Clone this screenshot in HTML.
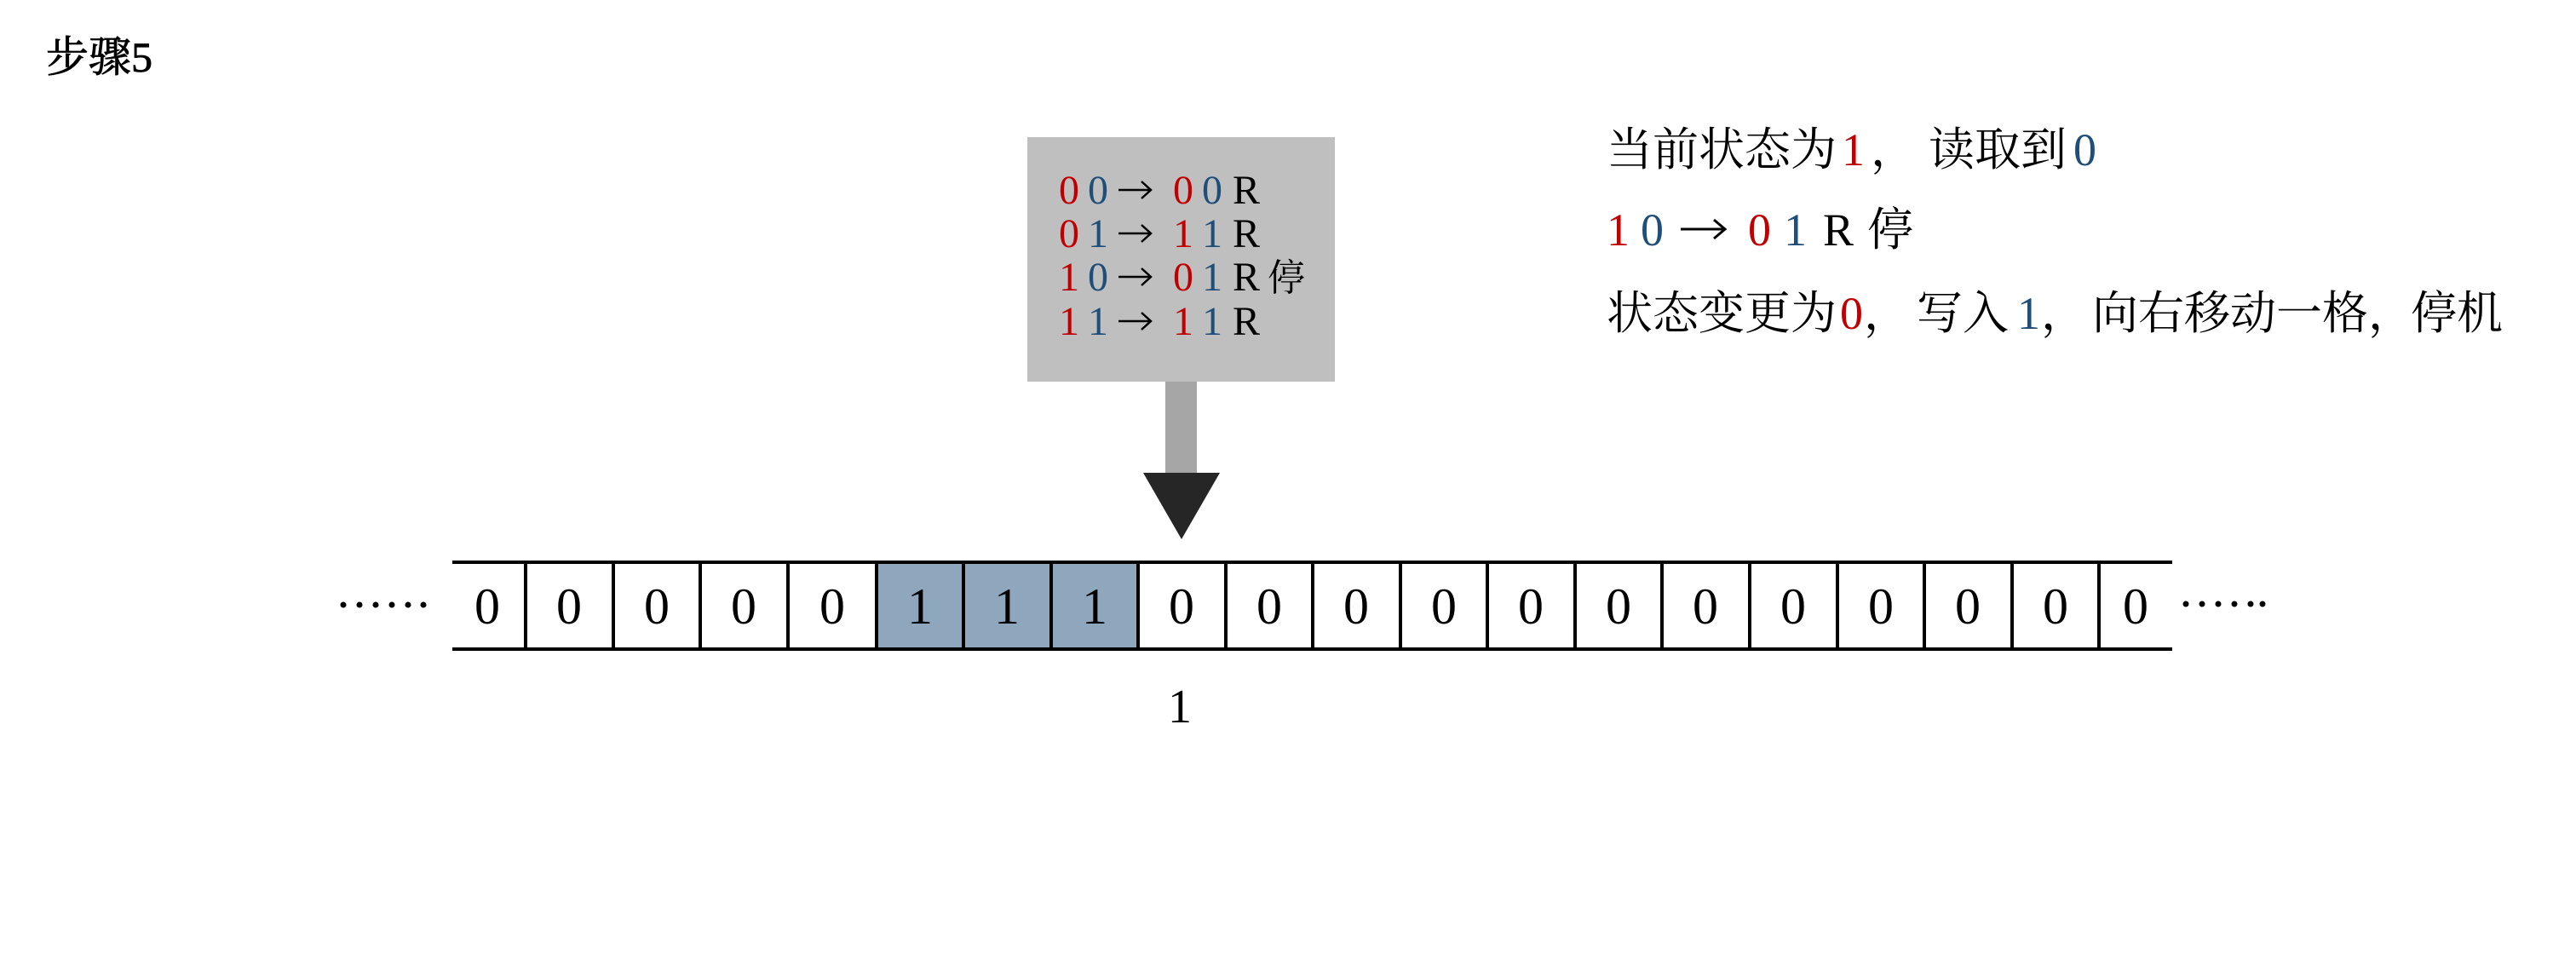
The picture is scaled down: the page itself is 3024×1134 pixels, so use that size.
<!DOCTYPE html>
<html><head><meta charset="utf-8"><style>
html,body{margin:0;padding:0;background:#fff;}
svg{display:block;}
.s{font-family:"Liberation Serif","Noto Serif CJK SC",serif;}
.c{font-family:"Liberation Serif","Noto Serif CJK SC",serif;}
</style></head><body>
<svg width="3024" height="1134" viewBox="0 0 3024 1134" xmlns="http://www.w3.org/2000/svg">
<rect width="3024" height="1134" fill="#fff"/>
<text x="54" y="84" class="c" font-size="50" fill="#000" stroke="#000" stroke-width="0.8">步骤5</text>

<!-- rule box -->
<rect x="1206" y="161" width="361" height="287" fill="#bfbfbf"/>
<rect x="1368" y="448" width="37" height="107" fill="#a6a6a6"/>
<polygon points="1342,555 1432,555 1387,633" fill="#262626"/>
<g class="s" font-size="48">
<text y="239"><tspan x="1243" fill="#c00000">0</tspan><tspan x="1277" fill="#1f4e79">0</tspan><tspan x="1377" fill="#c00000">0</tspan><tspan x="1411" fill="#1f4e79">0</tspan><tspan x="1447" fill="#000">R</tspan></text>
<text y="290"><tspan x="1243" fill="#c00000">0</tspan><tspan x="1277" fill="#1f4e79">1</tspan><tspan x="1377" fill="#c00000">1</tspan><tspan x="1411" fill="#1f4e79">1</tspan><tspan x="1447" fill="#000">R</tspan></text>
<text y="341"><tspan x="1243" fill="#c00000">1</tspan><tspan x="1277" fill="#1f4e79">0</tspan><tspan x="1377" fill="#c00000">0</tspan><tspan x="1411" fill="#1f4e79">1</tspan><tspan x="1447" fill="#000">R</tspan><tspan x="1488" fill="#000" font-size="44">停</tspan></text>
<text y="393"><tspan x="1243" fill="#c00000">1</tspan><tspan x="1277" fill="#1f4e79">1</tspan><tspan x="1377" fill="#c00000">1</tspan><tspan x="1411" fill="#1f4e79">1</tspan><tspan x="1447" fill="#000">R</tspan></text>
</g>
<g stroke="#000" stroke-width="2.5" fill="none">
<path d="M1313 223 H1351 M1340 213 L1351 223 L1340 233"/>
<path d="M1313 274 H1351 M1340 264 L1351 274 L1340 284"/>
<path d="M1313 325 H1351 M1340 315 L1351 325 L1340 335"/>
<path d="M1313 377 H1351 M1340 367 L1351 377 L1340 387"/>
<path d="M1973 269 H2025 M2012 258 L2025 269 L2012 280" stroke-width="3"/>
</g>

<!-- right text -->
<g class="c" font-size="54" fill="#000">
<text y="194"><tspan x="1886">当前状态为</tspan><tspan x="2162" fill="#c00000">1</tspan><tspan x="2196">，</tspan><tspan x="2264">读取到</tspan><tspan x="2434" fill="#1f4e79">0</tspan></text>
<text y="288"><tspan x="1886" fill="#c00000">1</tspan><tspan x="1926" fill="#1f4e79">0</tspan><tspan x="2052" fill="#c00000">0</tspan><tspan x="2094" fill="#1f4e79">1</tspan><tspan x="2140">R</tspan><tspan x="2192">停</tspan></text>
<text y="386"><tspan x="1886">状态变更为</tspan><tspan x="2160" fill="#c00000">0</tspan><tspan x="2188">，</tspan><tspan x="2250">写入</tspan><tspan x="2368" fill="#1f4e79">1</tspan><tspan x="2396">，</tspan><tspan x="2456">向右移动一格，</tspan><tspan x="2830">停机</tspan></text>
</g>

<!-- tape -->
<rect x="1029" y="660" width="306" height="102" fill="#8fa7bd"/>
<line x1="531" y1="660" x2="2550" y2="660" stroke="#000" stroke-width="4"/>
<line x1="531" y1="762" x2="2550" y2="762" stroke="#000" stroke-width="4"/>
<g stroke="#000" stroke-width="4">
<line x1="617" y1="660" x2="617" y2="762"/><line x1="720" y1="660" x2="720" y2="762"/><line x1="822" y1="660" x2="822" y2="762"/><line x1="925" y1="660" x2="925" y2="762"/><line x1="1029" y1="660" x2="1029" y2="762"/><line x1="1131" y1="660" x2="1131" y2="762"/><line x1="1234" y1="660" x2="1234" y2="762"/><line x1="1336" y1="660" x2="1336" y2="762"/><line x1="1439" y1="660" x2="1439" y2="762"/><line x1="1541" y1="660" x2="1541" y2="762"/><line x1="1644" y1="660" x2="1644" y2="762"/><line x1="1746" y1="660" x2="1746" y2="762"/><line x1="1849" y1="660" x2="1849" y2="762"/><line x1="1951" y1="660" x2="1951" y2="762"/><line x1="2054" y1="660" x2="2054" y2="762"/><line x1="2157" y1="660" x2="2157" y2="762"/><line x1="2259" y1="660" x2="2259" y2="762"/><line x1="2362" y1="660" x2="2362" y2="762"/><line x1="2464" y1="660" x2="2464" y2="762"/>
</g>
<g class="s" font-size="60" fill="#000" text-anchor="middle">
<text x="572" y="732">0</text><text x="668" y="732">0</text><text x="771" y="732">0</text><text x="873" y="732">0</text><text x="977" y="732">0</text><text x="1080" y="732">1</text><text x="1182" y="732">1</text><text x="1285" y="732">1</text><text x="1387" y="732">0</text><text x="1490" y="732">0</text><text x="1592" y="732">0</text><text x="1695" y="732">0</text><text x="1797" y="732">0</text><text x="1900" y="732">0</text><text x="2002" y="732">0</text><text x="2105" y="732">0</text><text x="2208" y="732">0</text><text x="2310" y="732">0</text><text x="2413" y="732">0</text><text x="2507" y="732">0</text>
<text x="1385" y="848" font-size="56">1</text>
</g>
<g fill="#000">
<circle cx="403" cy="710" r="3.5"/><circle cx="422" cy="710" r="3.5"/><circle cx="441" cy="710" r="3.5"/><circle cx="460" cy="710" r="3.5"/><circle cx="479" cy="710" r="3.5"/><circle cx="497" cy="710" r="3.5"/>
<circle cx="2566" cy="709" r="3.5"/><circle cx="2585" cy="709" r="3.5"/><circle cx="2604" cy="709" r="3.5"/><circle cx="2623" cy="709" r="3.5"/><circle cx="2642" cy="709" r="3.5"/><circle cx="2656" cy="709" r="3.5"/>
</g>
</svg>
</body></html>
